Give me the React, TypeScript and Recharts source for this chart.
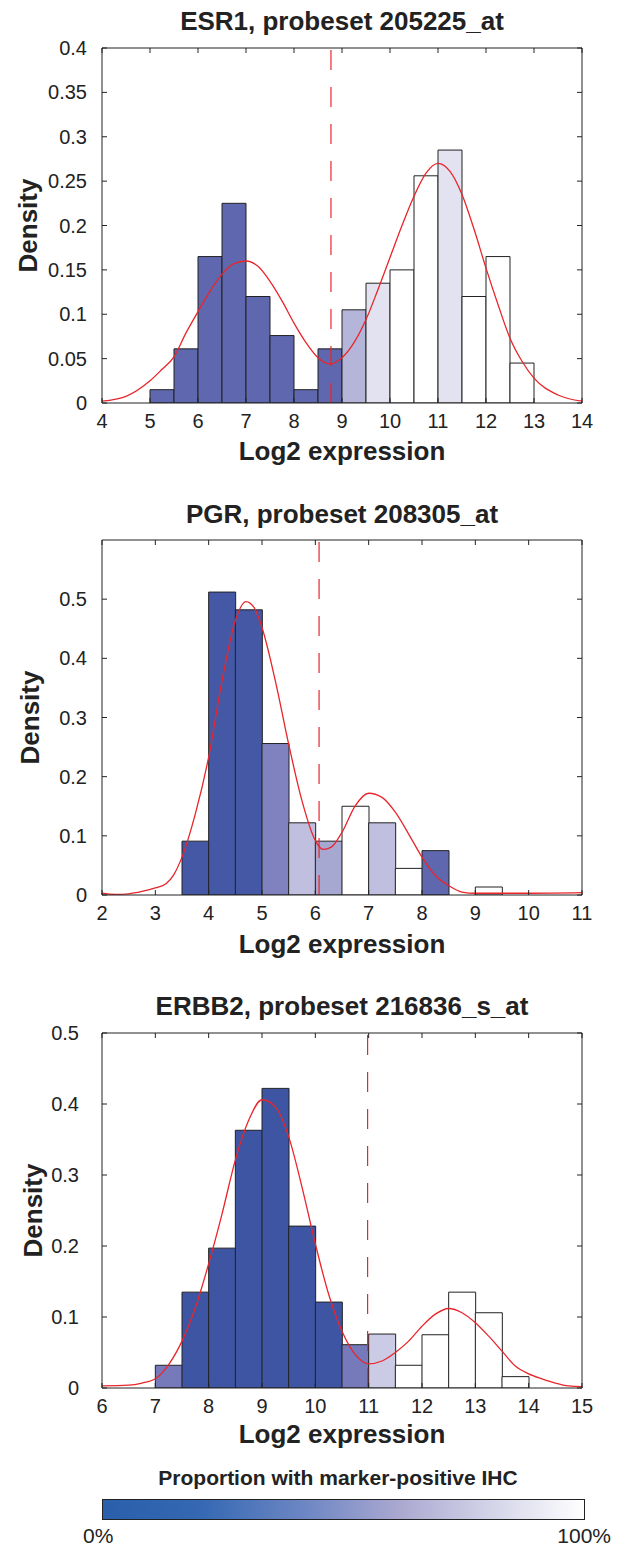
import React from 'react';
import { ComposedChart, Bar, Cell, Line, XAxis, YAxis, ReferenceLine } from 'recharts';

const FONT = '"Liberation Sans", Arial, Helvetica, sans-serif';
const INK = '#222222';
const RED = '#e8262b';
const BIN = 0.5;

// ---------- ESR1 ----------
const esrTitle = 'ESR1, probeset 205225_at';
const esrBinStarts = [5, 5.5, 6, 6.5, 7, 7.5, 8, 8.5, 9, 9.5, 10, 10.5, 11, 11.5, 12, 12.5];
const esrDensity = [0.015, 0.061, 0.165, 0.225, 0.12, 0.076, 0.015, 0.061, 0.105, 0.135, 0.15, 0.256, 0.285, 0.12, 0.165, 0.045];
const esrIhcShare = [0.2, 0.2, 0.2, 0.2, 0.2, 0.2, 0.2, 0.2, 0.6, 0.85, 1, 1, 0.85, 1, 1, 1];
const esrKdeX = [4, 4.5, 5, 5.25, 5.5, 5.75, 6, 6.25, 6.5, 6.75, 7, 7.25, 7.5, 7.75, 8, 8.25, 8.5, 8.75, 9, 9.25, 9.5, 9.75, 10, 10.25, 10.5, 10.75, 11, 11.25, 11.5, 11.75, 12, 12.25, 12.5, 12.75, 13, 13.5, 14];
const esrKdeY = [0.002, 0.0075, 0.025, 0.038, 0.052, 0.079, 0.103, 0.126, 0.145, 0.157, 0.16, 0.154, 0.137, 0.115, 0.09, 0.068, 0.051, 0.044, 0.051, 0.068, 0.094, 0.128, 0.164, 0.2, 0.233, 0.259, 0.27, 0.261, 0.235, 0.196, 0.152, 0.111, 0.073, 0.047, 0.028, 0.009, 0.002];
const esrXTicks = [4, 5, 6, 7, 8, 9, 10, 11, 12, 13, 14];
const esrYTicks = [0, 0.05, 0.1, 0.15, 0.2, 0.25, 0.3, 0.35, 0.4];
const esrYMax = 0.4;
const esrCutoff = 8.77;

// ---------- PGR ----------
const pgrTitle = 'PGR, probeset 208305_at';
const pgrBinStarts = [3.5, 4, 4.5, 5, 5.5, 6, 6.5, 7, 7.5, 8, 8.5, 9];
const pgrDensity = [0.091, 0.512, 0.482, 0.256, 0.122, 0.091, 0.15, 0.122, 0.045, 0.075, 0, 0.0135];
const pgrIhcShare = [0.1, 0.1, 0.1, 0.45, 0.7, 0.55, 1, 0.7, 1, 0.2, 0, 1];
const pgrKdeX = [2, 2.25, 2.5, 2.75, 3, 3.2, 3.35, 3.5, 3.75, 4, 4.25, 4.5, 4.7, 4.85, 5, 5.25, 5.5, 5.75, 6, 6.15, 6.3, 6.5, 6.75, 7, 7.25, 7.5, 7.75, 8, 8.25, 8.5, 8.75, 9, 10, 11];
const pgrKdeY = [0.003, 0.001, 0.002, 0.006, 0.012, 0.019, 0.035, 0.064, 0.137, 0.233, 0.362, 0.464, 0.496, 0.486, 0.452, 0.362, 0.255, 0.159, 0.092, 0.077, 0.081, 0.106, 0.151, 0.172, 0.165, 0.14, 0.103, 0.064, 0.033, 0.016, 0.005, 0.003, 0.003, 0.004];
const pgrXTicks = [2, 3, 4, 5, 6, 7, 8, 9, 10, 11];
const pgrYTicks = [0, 0.1, 0.2, 0.3, 0.4, 0.5];
const pgrYMax = 0.6;
const pgrCutoff = 6.07;

// ---------- ERBB2 ----------
const erbTitle = 'ERBB2, probeset 216836_s_at';
const erbBinStarts = [7, 7.5, 8, 8.5, 9, 9.5, 10, 10.5, 11, 11.5, 12, 12.5, 13, 13.5];
const erbDensity = [0.032, 0.135, 0.197, 0.363, 0.422, 0.228, 0.121, 0.061, 0.076, 0.032, 0.075, 0.135, 0.106, 0.016];
const erbIhcShare = [0.35, 0, 0, 0, 0, 0, 0, 0.35, 0.75, 1, 1, 1, 1, 1];
const erbKdeX = [6, 6.5, 6.75, 7, 7.25, 7.5, 7.75, 8, 8.25, 8.5, 8.75, 9, 9.25, 9.5, 9.75, 10, 10.25, 10.5, 10.75, 11, 11.25, 11.5, 11.75, 12, 12.25, 12.5, 12.75, 13, 13.25, 13.5, 13.75, 14, 14.25, 14.5, 14.75, 15];
const erbKdeY = [0.003, 0.004, 0.007, 0.013, 0.033, 0.066, 0.113, 0.175, 0.245, 0.321, 0.377, 0.406, 0.396, 0.354, 0.283, 0.203, 0.132, 0.08, 0.047, 0.034, 0.038, 0.05, 0.066, 0.087, 0.104, 0.112, 0.106, 0.092, 0.073, 0.052, 0.031, 0.02, 0.013, 0.007, 0.003, 0.002];
const erbXTicks = [6, 7, 8, 9, 10, 11, 12, 13, 14, 15];
const erbYTicks = [0, 0.1, 0.2, 0.3, 0.4, 0.5];
const erbYMax = 0.5;
const erbCutoff = 10.98;

// ---------- colour scale ----------
const barStops: [number, string][] = [
  [0, '#3e55a3'], [0.1, '#4458a5'], [0.2, '#5f68ae'], [0.35, '#7679ba'], [0.45, '#8082bf'],
  [0.55, '#a7a8d2'], [0.6, '#b4b5d9'], [0.7, '#c0bfdf'], [0.75, '#cbcbe6'], [0.85, '#e2e2f0'], [1, '#ffffff'],
];
const hex = (h: string) => [1, 3, 5].map((i) => parseInt(h.slice(i, i + 2), 16));
function barColor(p: number) {
  for (let i = 1; i < barStops.length; i++) {
    const [p1, c1] = barStops[i];
    const [p0, c0] = barStops[i - 1];
    if (p <= p1) {
      const t = (p - p0) / (p1 - p0 || 1);
      const a = hex(c0), b = hex(c1);
      const c = a.map((v, k) => Math.round(v + (b[k] - v) * t));
      return `rgb(${c[0]},${c[1]},${c[2]})`;
    }
  }
  return '#ffffff';
}

const tickStyle = { fill: INK, fontSize: 20, fontFamily: FONT };
const labelBase = { fill: INK, fontSize: 26, fontWeight: 'bold' as const, fontFamily: FONT };

type HistProps = {
  top: number; height: number; marginTop: number; title: string;
  binStarts: number[]; density: number[]; share: number[];
  kdeX: number[]; kdeY: number[]; xTicks: number[]; yTicks: number[]; yMax: number; cutoff: number;
  yLabelOffset: number; yTickMargin: number; xLabelOffset: number; titleOffset: number;
};

function Hist(props: HistProps) {
  const W = 626;
  const plotH = 355;
  const plotLeft = 102;
  const plotRight = 582;
  const marginBottom = props.height - props.marginTop - plotH;
  const bars = props.binStarts.map((s, i) => ({ x: s + BIN / 2, v: props.density[i], p: props.share[i] }));
  const kde = props.kdeX.map((x, i) => ({ x, d: props.kdeY[i] }));
  const domain: [number, number] = [props.xTicks[0], props.xTicks[props.xTicks.length - 1]];
  return (
    <div style={{ position: 'absolute', left: 0, top: props.top, width: W, height: props.height }}>
      <ComposedChart
        width={W}
        height={props.height}
        data={bars}
        margin={{ top: props.marginTop - 1, right: W - plotRight - 1, bottom: marginBottom - 1, left: plotLeft - 1 }}
        barCategoryGap={0}
        barGap={0}
      >
        <XAxis xAxisId="bars" type="number" dataKey="x" domain={domain} hide height={0} allowDataOverflow />
        <XAxis
          xAxisId="main" type="number" dataKey="x" domain={domain} ticks={props.xTicks} interval={0}
          allowDataOverflow height={1} tickSize={-5} tickMargin={16}
          tick={tickStyle} axisLine={{ stroke: INK }} tickLine={{ stroke: INK }}
          label={{ value: 'Log2 expression', position: 'bottom', offset: props.xLabelOffset - 1, ...labelBase }}
        />
        <XAxis
          xAxisId="top" orientation="top" type="number" dataKey="x" domain={domain} ticks={props.xTicks} interval={0}
          allowDataOverflow height={1} tickSize={-5} tickFormatter={() => ''}
          axisLine={{ stroke: INK }} tickLine={{ stroke: INK }}
          label={{ value: props.title, position: 'top', offset: props.titleOffset - 1, ...labelBase }}
        />
        <YAxis
          yAxisId="left" type="number" domain={[0, props.yMax]} ticks={props.yTicks} interval={0}
          allowDataOverflow width={1} tickSize={-5} tickMargin={props.yTickMargin}
          tick={tickStyle} axisLine={{ stroke: INK }} tickLine={{ stroke: INK }}
          label={{ value: 'Density', angle: -90, position: 'left', offset: props.yLabelOffset - 1, ...labelBase, style: { textAnchor: 'middle' } }}
        />
        <YAxis
          yAxisId="right" orientation="right" type="number" domain={[0, props.yMax]} ticks={props.yTicks} interval={0}
          allowDataOverflow width={1} tickSize={-5} tickFormatter={() => ''}
          axisLine={{ stroke: INK }} tickLine={{ stroke: INK }}
        />
        <Bar xAxisId="bars" yAxisId="left" dataKey="v" stroke={INK} strokeWidth={1} isAnimationActive={false}>
          {bars.map((b, i) => (
            <Cell key={i} fill={barColor(b.p)} />
          ))}
        </Bar>
        <ReferenceLine xAxisId="main" yAxisId="left" x={props.cutoff} stroke={RED} strokeWidth={1.2} strokeDasharray="20 17" />
        <Line
          xAxisId="main" yAxisId="left" data={kde} dataKey="d" type="monotone"
          stroke={RED} strokeWidth={1.3} dot={false} activeDot={false} isAnimationActive={false}
        />
      </ComposedChart>
    </div>
  );
}

function ColorBar() {
  return (
    <svg width={626} height={87} style={{ position: 'absolute', left: 0, top: 1460 }}>
      <defs>
        <linearGradient id="ihc" x1="0" x2="1" y1="0" y2="0">
          <stop offset="0" stopColor="#2a5fab" />
          <stop offset="0.2" stopColor="#3468b3" />
          <stop offset="0.43" stopColor="#7088c4" />
          <stop offset="0.62" stopColor="#aca9d1" />
          <stop offset="0.8" stopColor="#d2d2e8" />
          <stop offset="1" stopColor="#ffffff" />
        </linearGradient>
      </defs>
      <text x={338} y={25} textAnchor="middle" fontFamily={FONT} fontWeight="bold" fontSize={21} fill={INK}>
        Proportion with marker-positive IHC
      </text>
      <rect x={102.5} y={39.5} width={482} height={20} fill="url(#ihc)" stroke={INK} strokeWidth={1} />
      <text x={83} y={83} fontFamily={FONT} fontSize={21} fill={INK}>0%</text>
      <text x={611} y={83} textAnchor="end" fontFamily={FONT} fontSize={21} fill={INK}>100%</text>
    </svg>
  );
}

export default function App() {
  return (
    <div style={{ position: 'absolute', left: 0, top: 0, width: 626, height: 1547, background: '#ffffff', fontFamily: FONT }}>
      <Hist top={0} height={470} marginTop={48} title={esrTitle} binStarts={esrBinStarts} density={esrDensity}
        share={esrIhcShare} kdeX={esrKdeX} kdeY={esrKdeY} xTicks={esrXTicks} yTicks={esrYTicks} yMax={esrYMax}
        cutoff={esrCutoff} yLabelOffset={74} yTickMargin={20} xLabelOffset={38.5} titleOffset={18} />
      <Hist top={480} height={480} marginTop={60} title={pgrTitle} binStarts={pgrBinStarts} density={pgrDensity}
        share={pgrIhcShare} kdeX={pgrKdeX} kdeY={pgrKdeY} xTicks={pgrXTicks} yTicks={pgrYTicks} yMax={pgrYMax}
        cutoff={pgrCutoff} yLabelOffset={72} yTickMargin={20} xLabelOffset={39.5} titleOffset={17} />
      <Hist top={960} height={500} marginTop={73} title={erbTitle} binStarts={erbBinStarts} density={erbDensity}
        share={erbIhcShare} kdeX={erbKdeX} kdeY={erbKdeY} xTicks={erbXTicks} yTicks={erbYTicks} yMax={erbYMax}
        cutoff={erbCutoff} yLabelOffset={69} yTickMargin={28} xLabelOffset={36.5} titleOffset={18} />
      <ColorBar />
    </div>
  );
}
